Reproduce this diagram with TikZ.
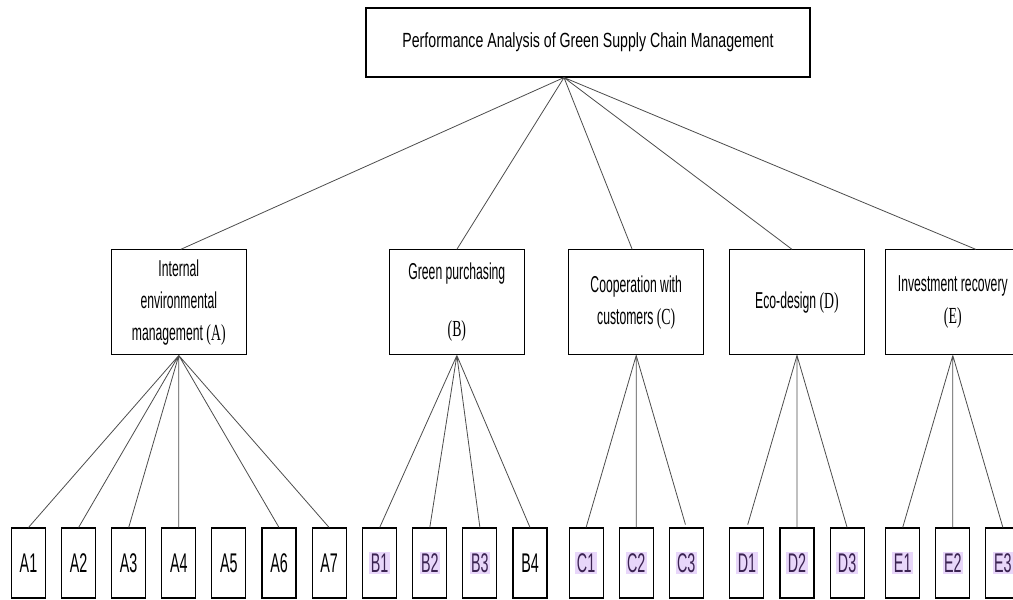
\documentclass[tikz,border=0pt]{standalone}
\usepackage{fontspec}
\setmainfont{Liberation Sans}[FakeStretch=0.53]
\newfontfamily\goalfont{Liberation Sans}[FakeStretch=0.69]
\newfontfamily\tmsfont{Liberation Serif}[FakeStretch=0.6]
\usetikzlibrary{calc,positioning}
\definecolor{markbg}{HTML}{E8D6FA}
\definecolor{marktext}{HTML}{3B2352}
\newcommand{\mk}[1]{{\setlength{\fboxsep}{1.5pt}\colorbox{markbg}{\textcolor{marktext}{#1}}}}
\newcommand{\ltr}[1]{{\tmsfont(#1)}}
\tikzset{
  goal/.style = {draw, line width=1.1pt, minimum width=444pt, minimum height=69pt,
                 font=\goalfont\fontsize{20.5}{24}\selectfont},
  crit/.style = {draw, line width=1.1pt, minimum width=135pt, minimum height=105pt,
                 align=center, inner sep=2pt, font=\fontsize{23}{32}\selectfont},
  leaf/.style = {draw, line width=1.1pt, minimum width=34pt, minimum height=70pt,
                 inner sep=0pt, alias=tmp, font=\fontsize{27}{30}\selectfont},
  link/.style = {draw=black!70, line width=0.8pt},
}
\begin{document}
\begin{tikzpicture}[x=1pt,y=-1pt]
\useasboundingbox (0,0) rectangle (1013,600);
\clip (0,0) rectangle (1013,600);
% goal
\node[goal] (top) at (588,42.5) {Performance Analysis of Green Supply Chain Management};
\coordinate (hub) at ([xshift=-24pt]top.south);
% sub-criteria
\path[nodes=leaf]
node (A1) at (28.5,563) {A1}
node[right=15pt of tmp] (A2) {A2}
node[right=15pt of tmp] (A3) {A3}
node[right=15pt of tmp] (A4) {A4}
node[right=15pt of tmp] (A5) {A5}
node[right=15pt of tmp] (A6) {A6}
node[right=15pt of tmp] (A7) {A7}
node[right=15.5pt of tmp] (B1) {\mk{B1}}
node[right=15pt of tmp] (B2) {\mk{B2}}
node[right=15pt of tmp] (B3) {\mk{B3}}
node[right=15pt of tmp] (B4) {B4}
node[right=21pt of tmp] (C1) {\mk{C1}}
node[right=15pt of tmp] (C2) {\mk{C2}}
node[right=15pt of tmp] (C3) {\mk{C3}}
node[right=25.5pt of tmp] (D1) {\mk{D1}}
node[right=15pt of tmp] (D2) {\mk{D2}}
node[right=15pt of tmp] (D3) {\mk{D3}}
node[right=20.5pt of tmp] (E1) {\mk{E1}}
node[right=15pt of tmp] (E2) {\mk{E2}}
node[right=15pt of tmp] (E3) {\mk{E3}};
% criteria
\coordinate (B23) at ($(B2.north)!.5!(B3.north)+(2pt,0)$);
\node[crit, above=172pt of A4] (A) {Internal\\environmental\\management \ltr{A}};
\node[crit, above=172pt of B23] (B) {Green purchasing\\[25pt]\ltr{B}};
\node[crit, above=172pt of C2] (C) {Cooperation with\\customers \ltr{C}};
\node[crit, above=172pt of D2] (D) {Eco-design \ltr{D}};
\node[crit, above=172pt of E2] (E) {Investment recovery\\\ltr{E}};
% links
\draw[link] (hub) -- ([xshift=2pt]A.north) (hub) -- (B.north) (hub) -- ([xshift=-4pt]C.north)
  (hub) -- ([xshift=-5pt]D.north) (hub) -- ([xshift=23pt]E.north);
\draw[link] (A.south) -- (A1.north) (A.south) -- (A2.north) (A.south) -- (A3.north)
  (A.south) -- (A4.north) (A.south) -- (A6.north) (A.south) -- (A7.north);
\draw[link] (B.south) -- (B1.north) (B.south) -- (B2.north) (B.south) -- (B3.north)
  (B.south) -- (B4.north);
\draw[link] (C.south) -- (C1.north) (C.south) -- (C2.north);
\draw[link, shorten >=3pt] (C.south) -- (C3.north);
\draw[link, shorten >=3pt] (D.south) -- (D1.north);
\draw[link] (D.south) -- (D2.north) (D.south) -- (D3.north);
\draw[link] (E.south) -- (E1.north) (E.south) -- (E2.north) (E.south) -- (E3.north);
\end{tikzpicture}
\end{document}
